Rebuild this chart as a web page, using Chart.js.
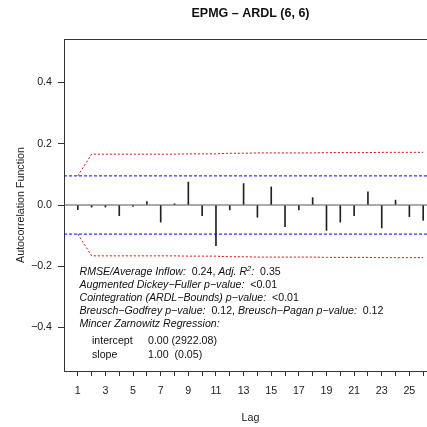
<!DOCTYPE html>
<html><head><meta charset="utf-8">
<script src="https://cdn.jsdelivr.net/npm/chart.js@4"></script>
<style>
html,body{margin:0;padding:0;background:#fff;overflow:hidden;width:427px;height:427px}
#wrap{width:440px;height:427px;position:relative}
</style></head>
<body><div id="wrap"><canvas id="c" width="440" height="427"></canvas></div>
<script>
const chartTitle = "EPMG \u2013 ARDL (6, 6)";
const xAxisTitle = "Lag";
const yAxisTitle = "Autocorrelation Function";
const lags = [1,2,3,4,5,6,7,8,9,10,11,12,13,14,15,16,17,18,19,20,21,22,23,24,25,26];
const acfValues = [-0.015,-0.007,-0.007,-0.035,-0.005,0.011,-0.056,0.004,0.075,-0.035,-0.133,-0.016,0.070,-0.040,0.059,-0.071,-0.016,0.024,-0.083,-0.056,-0.035,0.043,-0.075,0.016,-0.038,-0.050];
const whiteNoiseBound = 0.095;
const bartlettBound = [0.095,0.166,0.166,0.166,0.166,0.166,0.166,0.166,0.167,0.167,0.167,0.169,0.169,0.170,0.170,0.170,0.170,0.170,0.171,0.171,0.171,0.171,0.172,0.172,0.172,0.172];
const yTickValues = [-0.4,-0.2,0,0.2,0.4];
const xRange = [0, 27];
const yRange = [-0.542, 0.542];
const annotationLines = [
  [["RMSE/Average Inflow:", "i"], ["  0.24, ", "n"], ["Adj. R", "i"], ["2", "sup"], [":", "i"], ["  0.35", "n"]],
  [["Augmented Dickey\u2212Fuller p\u2212value:", "i"], ["  <0.01", "n"]],
  [["Cointegration (ARDL\u2212Bounds) p\u2212value:", "i"], ["  <0.01", "n"]],
  [["Breusch\u2212Godfrey p\u2212value:", "i"], ["  0.12, ", "n"], ["Breusch\u2212Pagan p\u2212value:", "i"], ["  0.12", "n"]],
  [["Mincer Zarnowitz Regression:", "i"]]
];
const regressionRows = [["intercept", "0.00 (2922.08)"], ["slope", "1.00  (0.05)"]];

const FONT = "'Liberation Sans', Arial, Helvetica, sans-serif";
const AXFS = 10.7;
const fmt = v => (v < 0 ? "\u2212" : "") + Math.abs(v).toFixed(1);

const decor = {
  id: 'decor',
  afterDraw(chart) {
    const {ctx, chartArea: a} = chart;
    ctx.save();
    ctx.strokeStyle = '#333'; ctx.lineWidth = 1;
    ctx.beginPath(); ctx.moveTo(a.left, Math.round(a.top) + 0.5); ctx.lineTo(a.right, Math.round(a.top) + 0.5); ctx.stroke();
    ctx.fillStyle = '#111';
    ctx.font = "bold 12.5px " + FONT;
    ctx.textAlign = 'center'; ctx.textBaseline = 'middle';
    ctx.fillText(chartTitle, (a.left + a.right) / 2, 14);
    ctx.textAlign = 'left'; ctx.textBaseline = 'middle';
    const fs = 10.6;
    const x0 = a.left + 15.5;
    const ys = [272.5, 285.5, 298.5, 311.5, 324.5];
    annotationLines.forEach((line, i) => {
      let x = x0;
      line.forEach(([t, s]) => {
        let y = ys[i];
        if (s === 'i') ctx.font = "italic " + fs + "px " + FONT;
        else if (s === 'sup') { ctx.font = "italic " + (fs * 0.7) + "px " + FONT; y -= 4; }
        else ctx.font = fs + "px " + FONT;
        ctx.fillText(t, x, y);
        x += ctx.measureText(t).width;
      });
    });
    ctx.font = fs + "px " + FONT;
    const rys = [341.5, 355.5];
    regressionRows.forEach((r, i) => {
      ctx.fillText(r[0], a.left + 28, rys[i]);
      ctx.fillText(r[1], a.left + 84, rys[i]);
    });
    ctx.restore();
  }
};

const lineDs = (data, color, dash) => ({
  type: 'line', data, borderColor: color, borderWidth: 1, borderDash: dash,
  pointRadius: 0, fill: false, tension: 0
});

new Chart(document.getElementById('c'), {
  type: 'bar',
  data: {
    datasets: [
      lineDs(xRange.map(x => ({x, y: 0})), '#555', []),
      lineDs(xRange.map(x => ({x, y: whiteNoiseBound})), '#0000ff', [3, 2]),
      lineDs(xRange.map(x => ({x, y: -whiteNoiseBound})), '#0000ff', [3, 2]),
      lineDs(lags.map((x, i) => ({x, y: bartlettBound[i]})), '#ee0000', [2, 2]),
      lineDs(lags.map((x, i) => ({x, y: -bartlettBound[i]})), '#ee0000', [2, 2]),
      { type: 'bar', data: lags.map((x, i) => ({x, y: acfValues[i]})),
        backgroundColor: '#222', borderWidth: 0, barThickness: 1 }
    ]
  },
  options: {
    responsive: false, animation: false, devicePixelRatio: 1,
    layout: {padding: {top: 39, right: 3, left: 0, bottom: 0}},
    plugins: {legend: {display: false}, tooltip: {enabled: false}, title: {display: false}},
    scales: {
      x: {
        type: 'linear', min: xRange[0], max: xRange[1], offset: false,
        afterBuildTicks: s => { s.ticks = lags.map(v => ({value: v})); },
        afterFit: s => { s.height = 56; },
        grid: {display: true, drawOnChartArea: false, drawTicks: true, tickLength: 5, tickColor: '#333', offset: false},
        border: {display: true, color: '#333', width: 1},
        ticks: {autoSkip: false, maxRotation: 0, padding: 9, color: '#222',
          font: {family: FONT, size: AXFS},
          callback: v => (v % 2 === 1 ? String(v) : '')},
        title: {display: true, text: xAxisTitle, color: '#222', font: {family: FONT, size: AXFS}, padding: {top: 0, bottom: 3}}
      },
      y: {
        min: yRange[0], max: yRange[1],
        afterBuildTicks: s => { s.ticks = yTickValues.map(v => ({value: v})); },
        afterFit: s => { s.width = 64; },
        grid: {display: true, drawOnChartArea: false, drawTicks: true, tickLength: 6, tickColor: '#333'},
        border: {display: true, color: '#333', width: 1},
        ticks: {padding: 6, color: '#222', font: {family: FONT, size: AXFS}, callback: v => fmt(v)},
        title: {display: true, text: yAxisTitle, color: '#222', font: {family: FONT, size: AXFS}, padding: {top: 14.2, bottom: 0}}
      }
    }
  },
  plugins: [decor]
});
</script>
</body></html>
